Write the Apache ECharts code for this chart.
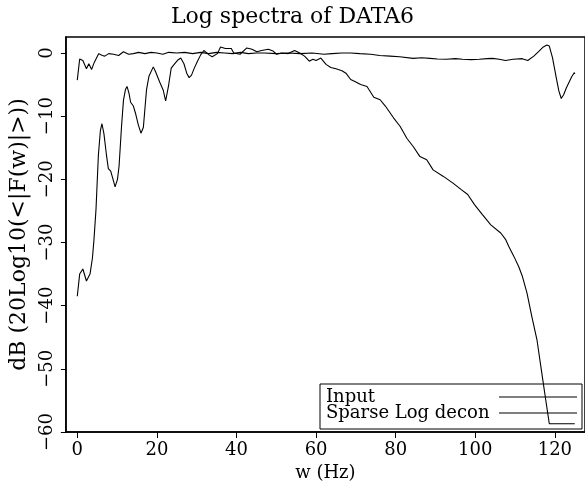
<!DOCTYPE html>
<html>
<head>
<meta charset="utf-8">
<script src="https://cdn.jsdelivr.net/npm/echarts@6/dist/echarts.min.js"></script>
<style>html,body{margin:0;padding:0;background:#fff;}#c{width:585px;height:489px;}</style>
</head>
<body>
<div id="c"></div>
<script>
var titleText = 'Log spectra of DATA6';
var xName = 'w (Hz)';
var yName = 'dB (20Log10(<|F(w)|>))';
var seriesNames = ['Input', 'Sparse Log decon'];
var xTicks = [0, 20, 40, 60, 80, 100, 120];
var yTicks = [-60, -50, -40, -30, -20, -10, 0];

var inputFreq = [0,0.6,1.4,2.3,3.2,3.8,4.2,4.7,5.3,5.8,6.2,6.7,7.3,7.8,8.4,8.9,9.5,10.1,10.5,11.1,11.6,12.1,12.5,13.0,13.4,14.1,14.7,15.3,16.0,16.6,17.0,17.4,18.0,18.5,19.1,19.7,20.7,21.6,22.2,22.5,22.9,23.6,24.5,25.3,26.0,26.8,27.5,28.1,28.7,29.4,30.2,31.0,31.8,32.4,33.1,33.9,35.2,36.0,37.2,38.7,39.3,40.9,42.6,43.9,45.1,46.3,48.0,49.2,50.1,51.3,53.0,54.6,55.9,57.1,58.3,59.2,60.0,61.2,62.5,63.7,65.0,65.4,66.5,67.5,68.7,70.0,71.2,72.8,74.5,76.1,77.4,79.5,81.1,82.8,84.4,86.1,87.8,89.4,91.9,94.4,96.4,98.1,99.8,101.8,103.9,106.4,107.6,108.4,109.7,110.9,111.8,113.0,114.2,115.5,116.7,117.7,118.6,125];
var inputDb = [-38.5,-35.0,-34.2,-36.1,-35.0,-32.5,-29.5,-24.8,-16.2,-12.3,-11.2,-12.8,-16.0,-18.3,-18.7,-19.8,-21.2,-20.0,-17.9,-11.8,-7.5,-5.8,-5.3,-6.4,-7.8,-8.4,-9.7,-11.3,-12.7,-11.8,-8.8,-5.8,-3.7,-3.4,-2.2,-3.0,-4.6,-5.9,-7.6,-7.3,-5.3,-2.4,-1.7,-1.1,-0.8,-1.7,-3.2,-3.9,-3.5,-2.4,-1.3,-0.3,0.4,0.1,-0.3,-0.6,-0.1,0.95,0.7,0.7,0,-0.2,0.8,0.6,0.2,0.4,0.6,0.3,-0.2,0,-0.1,0.4,0,-0.5,-1.3,-1.0,-1.2,-0.8,-1.8,-2.3,-2.5,-2.3,-2.8,-3.2,-4.2,-4.6,-5.0,-5.3,-7.0,-7.4,-8.4,-10.3,-11.6,-13.5,-14.8,-16.4,-16.9,-18.5,-19.5,-20.6,-21.6,-22.4,-24.0,-25.6,-27.2,-28.5,-29.5,-30.6,-32.2,-33.8,-35.3,-38.0,-41.7,-45.4,-50.6,-54.9,-58.7,-58.7];

var deconFreq = [0,0.6,1.4,2.3,2.9,3.6,4.2,5.4,6.3,6.9,7.9,9.1,10.4,11.6,12.9,14.1,15.4,17,18.5,20,21.5,23,25,27,29,31,33,35,37,39,41,43,45,47,50,53,56,59,62,64,66.5,68.7,71,73.7,76,78.6,81,84.4,86.5,88.6,90.5,92.7,95,96.8,99,101,103,104.3,106,107.6,109.5,111.8,113.2,114.7,115.9,117.1,118.0,118.6,119.4,120.5,121.0,121.6,122.2,122.9,124.2,124.9,125];
var deconDb = [-4.3,-0.95,-1.2,-2.5,-1.7,-2.6,-1.6,-0.1,-0.4,-0.5,-0.1,-0.2,-0.4,0.2,-0.2,-0.1,0.1,-0.1,0.1,0,-0.2,0.1,0,0.1,-0.1,0.1,-0.1,0.1,0,-0.1,0.1,-0.1,0,0,-0.1,0,-0.1,0,-0.2,-0.1,0,0,-0.1,-0.2,-0.4,-0.5,-0.6,-0.85,-0.75,-0.85,-0.95,-1.0,-0.9,-1.0,-1.05,-1.0,-0.9,-0.85,-1.0,-1.2,-1.0,-0.9,-1.2,-0.5,0.2,0.95,1.25,1.1,-0.75,-4.4,-6.0,-7.2,-6.6,-5.5,-3.8,-3.1,-3.3];

function pairs(xs, ys) { return xs.map(function (x, i) { return [x, ys[i]]; }); }
function minus(v) { return String(v).replace('-', '\u2212'); }

var FONT = 'DejaVu Serif';
var chart = echarts.init(document.getElementById('c'), null, {renderer: 'canvas'});
chart.setOption({
  animation: false,
  backgroundColor: '#fff',
  title: {
    text: titleText, left: 'center', top: 1,
    textStyle: {fontFamily: FONT, fontSize: 22, fontWeight: 'normal', color: '#000'}
  },
  grid: {left: 62, right: -2, top: 37, bottom: 57, show: true, borderColor: '#000', borderWidth: 1.5, backgroundColor: 'transparent'},
  legend: {
    orient: 'vertical', left: 320, top: 384, align: 'right',
    padding: [4, 5, 7, 6], itemGap: -2, itemWidth: 78, itemHeight: 1,
    borderColor: '#000', borderWidth: 1, borderRadius: 0,
    icon: 'rect',
    data: seriesNames,
    formatter: function (n) { return '{a|' + n + '}'; },
    textStyle: {fontFamily: FONT, fontSize: 18, color: '#000',
      rich: {a: {width: 168, align: 'left', fontFamily: FONT, fontSize: 18, color: '#000'}}}
  },
  xAxis: {
    type: 'value', min: -2.86, max: 127.57,
    name: xName, nameLocation: 'middle', nameGap: 27,
    nameTextStyle: {fontFamily: FONT, fontSize: 18, color: '#000'},
    axisLine: {show: true, onZero: false, lineStyle: {color: '#000', width: 1.5}},
    axisTick: {show: true, length: 6, customValues: xTicks, lineStyle: {color: '#000', width: 1}},
    axisLabel: {customValues: xTicks, fontFamily: FONT, fontSize: 18, color: '#000', margin: 9},
    splitLine: {show: false}
  },
  yAxis: {
    type: 'value', min: -60, max: 2.53,
    name: yName, nameLocation: 'middle', nameGap: 31,
    nameTextStyle: {fontFamily: FONT, fontSize: 22, color: '#000'},
    axisLine: {show: true, onZero: false, lineStyle: {color: '#000', width: 1.5}},
    axisTick: {show: true, length: 5, customValues: yTicks, lineStyle: {color: '#000', width: 1}},
    axisLabel: {customValues: yTicks, rotate: 90, formatter: minus, fontFamily: FONT, fontSize: 18, color: '#000', margin: 10},
    splitLine: {show: false}
  },
  series: [
    {name: seriesNames[0], type: 'line', data: pairs(inputFreq, inputDb), symbol: 'none',
     lineStyle: {color: '#000', width: 1.1}, itemStyle: {color: '#000'}},
    {name: seriesNames[1], type: 'line', data: pairs(deconFreq, deconDb), symbol: 'none',
     lineStyle: {color: '#000', width: 1.1}, itemStyle: {color: '#000'}}
  ]
});
</script>
</body>
</html>
